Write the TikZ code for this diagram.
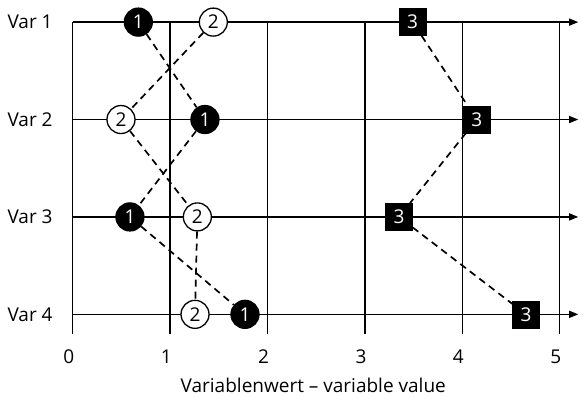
\documentclass[tikz,border=0pt]{standalone}
\usepackage{fontspec}
\setmainfont{Open Sans}
\usetikzlibrary{arrows.meta}
\tikzset{
  lblfont/.style={font=\fontsize{19}{22}\selectfont},
  grid/.style={line width=1.3pt, black},
  axisline/.style={line width=1.3pt, black, -{Triangle[length=9pt,width=7pt]}},
  wcirc/.style={circle, draw=black, line width=1.3pt, fill=white, minimum size=28pt, inner sep=0pt, lblfont},
  bcirc/.style={circle, draw=black, line width=1.3pt, fill=black, text=white, minimum size=28pt, inner sep=0pt, lblfont},
  bsq/.style={rectangle, draw=black, fill=black, text=white, minimum size=27pt, inner sep=0pt, lblfont},
  conn/.style={line width=1.7pt, dash pattern=on 7pt off 5pt},
  varlbl/.style={anchor=east, lblfont},
  ticklbl/.style={anchor=base, lblfont},
}
\begin{document}
\begin{tikzpicture}[x=97.4pt, y=97.4pt]
\useasboundingbox (-0.746,-0.839) rectangle (5.239,3.227);
% vertical grid lines
\foreach \i in {0,...,5} {
  \draw[grid] (\i,3) -- (\i,-0.2);
  \node[ticklbl] (t\i) at (\i-0.04,-0.5) {\i};
}
% horizontal axes
\foreach \j/\name in {3/Var 1,2/Var 2,1/Var 3,0/Var 4} {
  \draw[axisline] (0,\j) -- (5.19,\j);
  \node[varlbl] (v\j) at (-0.17,\j) {\name};
}
\node[ticklbl] (xlabel) at (2.47,-0.80) {Variablenwert – variable value};
\node[bcirc] (a1) at (0.674,3) {1};
\node[wcirc] (b1) at (1.444,3) {2};
\node[bsq]   (c1) at (3.49,3) {3};
\node[wcirc] (b2) at (0.496,2) {2};
\node[bcirc] (a2) at (1.358,2) {1};
\node[bsq]   (c2) at (4.148,2) {3};
\node[bcirc] (a3) at (0.588,1) {1};
\node[wcirc] (b3) at (1.28,1) {2};
\node[bsq]   (c3) at (3.35,1) {3};
\node[wcirc] (b4) at (1.256,0) {2};
\node[bcirc] (a4) at (1.769,0) {1};
\node[bsq]   (c4) at (4.654,0) {3};
\draw[conn] (a1) -- (a2) -- (a3) -- (a4);
\draw[conn] (b1) -- (b2) -- (b3) -- (b4);
\draw[conn] (c1) -- (c2) -- (c3) -- (c4);
\end{tikzpicture}
\end{document}
